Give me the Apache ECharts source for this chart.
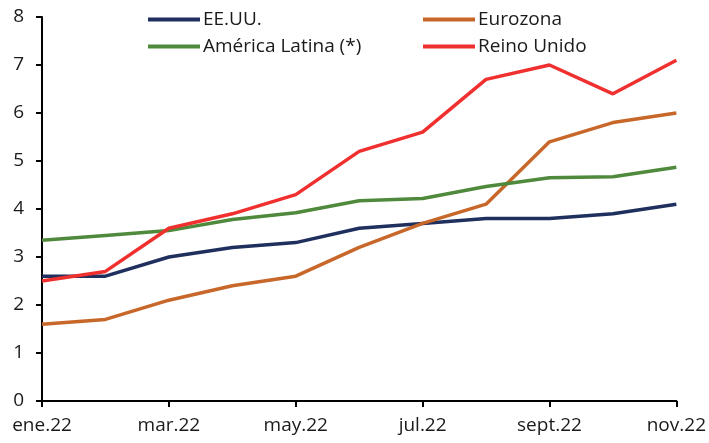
<!DOCTYPE html>
<html>
<head>
<meta charset="utf-8">
<script src="https://cdn.jsdelivr.net/npm/echarts@6/dist/echarts.min.js"></script>
<style>
  html, body { margin: 0; padding: 0; background: #fff; }
  #chart { width: 709px; height: 443px; }
</style>
</head>
<body>
<div id="chart"></div>
<script>
const meses = ["ene.22", "feb.22", "mar.22", "abr.22", "may.22", "jun.22", "jul.22", "ago.22", "sept.22", "oct.22", "nov.22"];
const eeuu = [2.6, 2.6, 3.0, 3.2, 3.3, 3.6, 3.7, 3.8, 3.8, 3.9, 4.1];
const eurozona = [1.6, 1.7, 2.1, 2.4, 2.6, 3.2, 3.7, 4.1, 5.4, 5.8, 6.0];
const latam = [3.35, 3.45, 3.55, 3.78, 3.92, 4.17, 4.22, 4.47, 4.65, 4.67, 4.87];
const reinoUnido = [2.5, 2.7, 3.6, 3.9, 4.3, 5.2, 5.6, 6.7, 7.0, 6.4, 7.1];

const fuente = "Open Sans";
const chart = echarts.init(document.getElementById("chart"));

function serie(nombre, datos, color) {
  return {
    name: nombre,
    type: "line",
    data: datos,
    symbol: "none",
    lineStyle: { color: color, width: 3.5 },
    itemStyle: { color: color }
  };
}

const leyenda = {
  orient: "vertical",
  top: 5,
  itemWidth: 52,
  itemHeight: 4,
  itemGap: 8,
  icon: "rect",
  textStyle: { fontFamily: fuente, fontSize: 19, color: "#1a1a1a", padding: [0, 0, 0, -2] }
};

chart.setOption({
  animation: false,
  grid: { left: 42, right: 30, top: 17, bottom: 42 },
  legend: [
    Object.assign({}, leyenda, { left: 143, data: ["EE.UU.", "América Latina (*)"] }),
    Object.assign({}, leyenda, { left: 418, data: ["Eurozona", "Reino Unido"] })
  ],
  xAxis: {
    type: "category",
    data: meses,
    boundaryGap: false,
    axisLine: { lineStyle: { color: "#000", width: 2 } },
    axisTick: { interval: 1, length: 6, lineStyle: { color: "#000", width: 2 } },
    axisLabel: { interval: 1, margin: 15, fontFamily: fuente, fontSize: 19, color: "#1a1a1a" },
    splitLine: { show: false }
  },
  yAxis: {
    type: "value",
    min: 0,
    max: 8,
    interval: 1,
    axisLine: { show: true, lineStyle: { color: "#000", width: 2 } },
    axisTick: { show: true, length: 6, lineStyle: { color: "#000", width: 2 } },
    axisLabel: { margin: 18, fontFamily: fuente, fontSize: 19, color: "#1a1a1a" },
    splitLine: { show: false }
  },
  series: [
    serie("EE.UU.", eeuu, "#1f2f5e"),
    serie("Eurozona", eurozona, "#c8672a"),
    serie("América Latina (*)", latam, "#4f8a3c"),
    serie("Reino Unido", reinoUnido, "#f0302f")
  ]
});
</script>
</body>
</html>
